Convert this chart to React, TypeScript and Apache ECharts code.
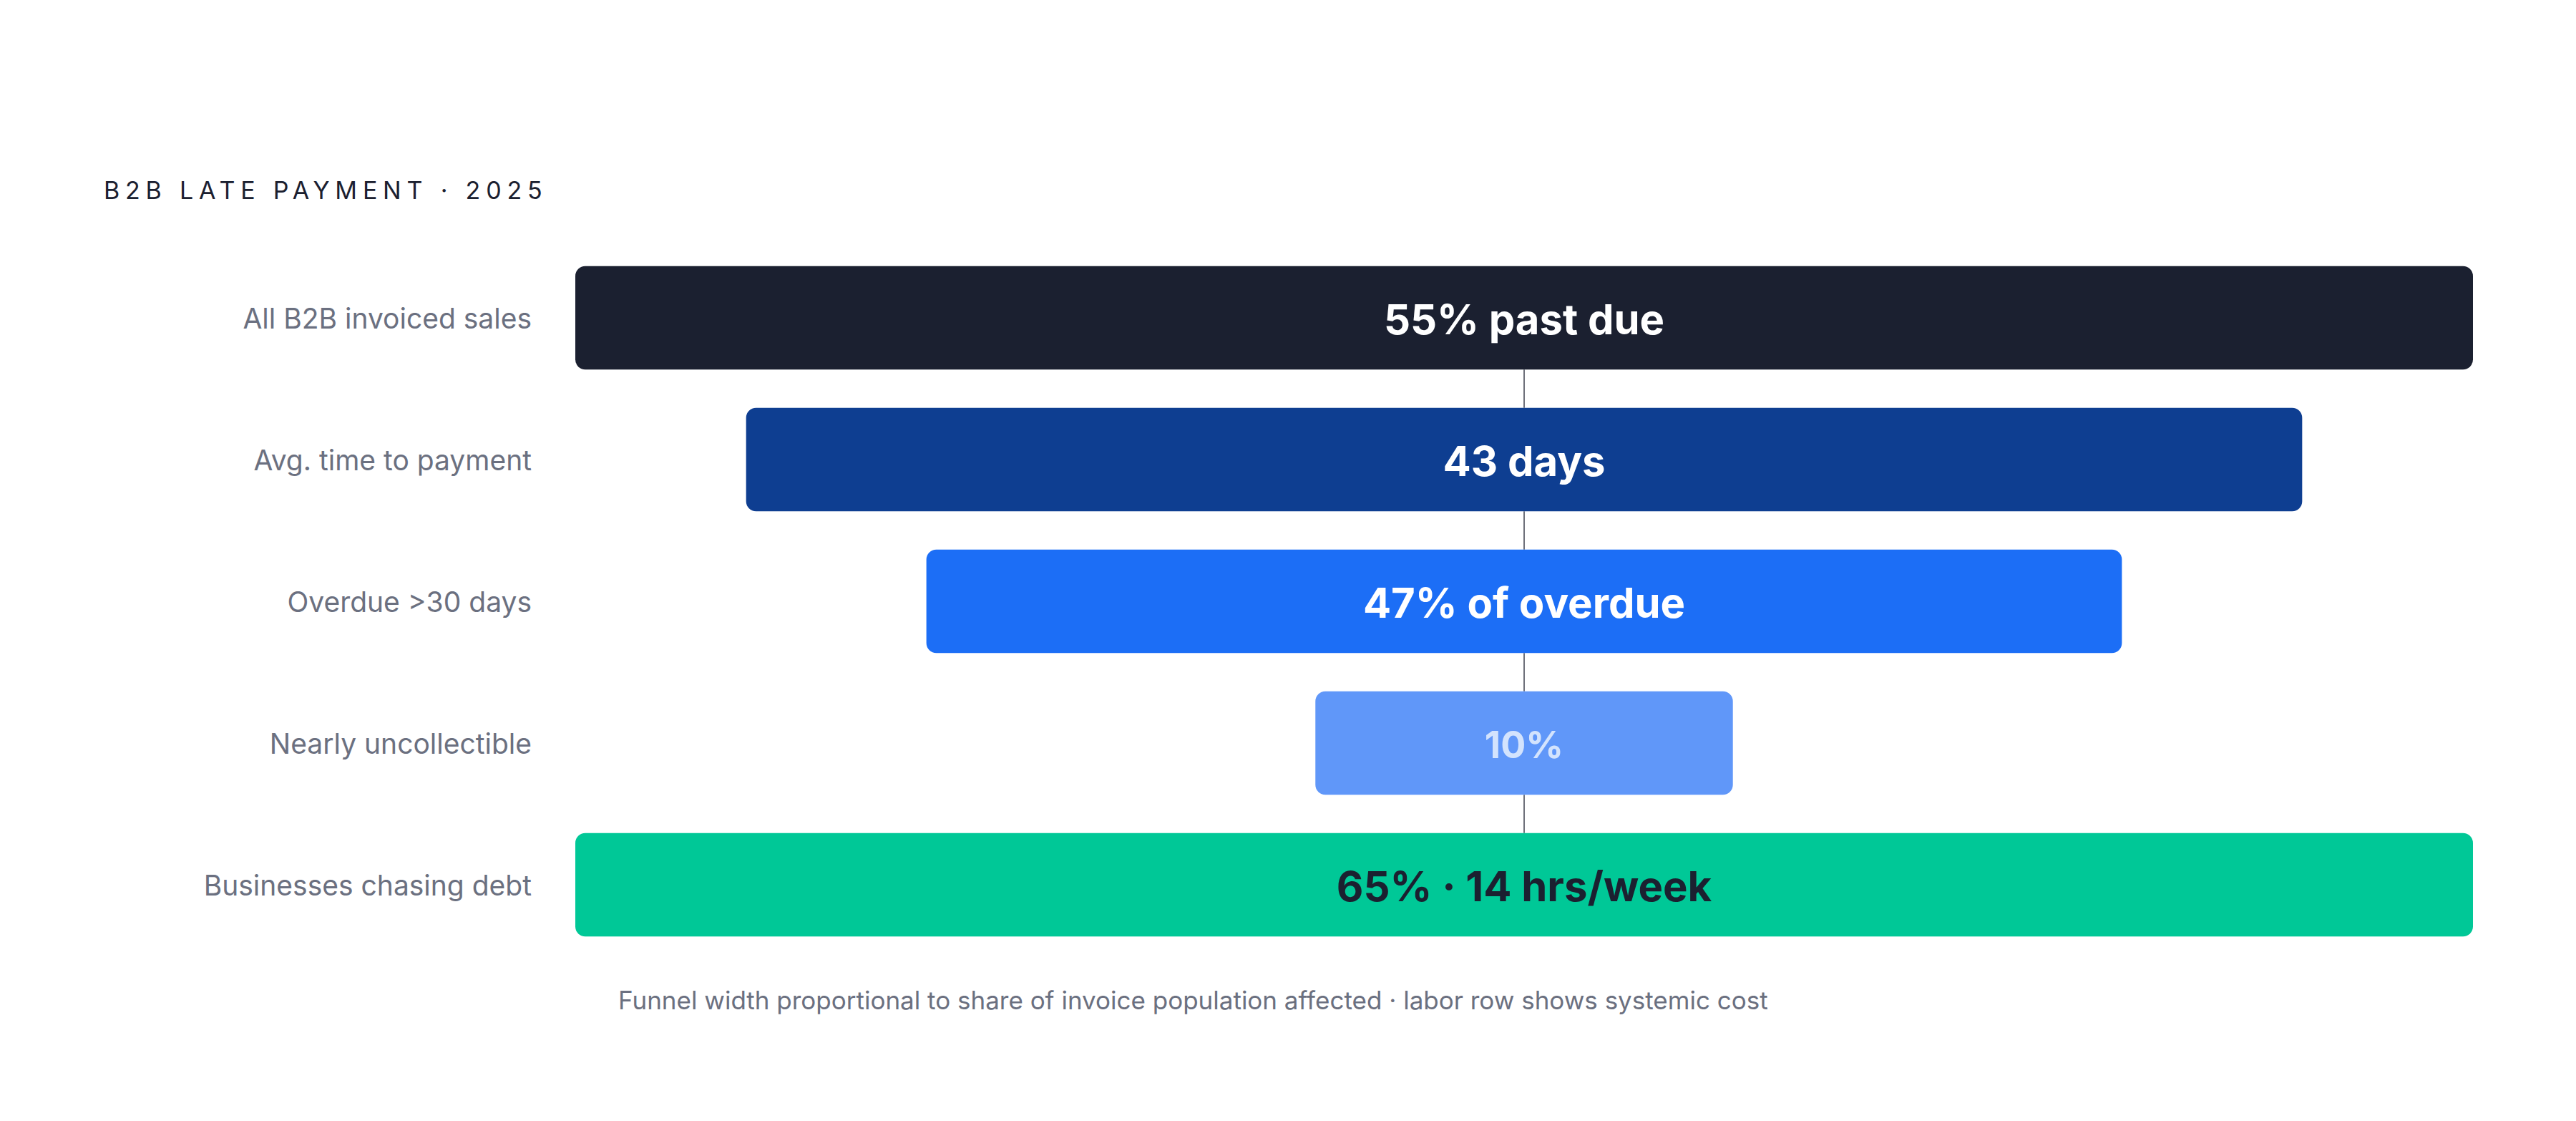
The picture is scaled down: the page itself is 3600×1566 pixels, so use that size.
import { useEffect, useRef } from 'react';
import * as echarts from 'echarts';

// Funnel rows, top to bottom
const stages = [
  'All B2B invoiced sales',
  'Avg. time to payment',
  'Overdue >30 days',
  'Nearly uncollectible',
  'Businesses chasing debt',
];

// Bar width as share of the invoice population (full row = 100)
const widthShare = [100, 82, 63, 22, 100];

const barLabels = ['55% past due', '43 days', '47% of overdue', '10%', '65% · 14 hrs/week'];

const TITLE = 'B2B LATE PAYMENT · 2025';
const FOOTNOTE =
  'Funnel width proportional to share of invoice population affected · labor row shows systemic cost';

const barColors = ['#1b2030', '#0e3e91', '#1c6ef6', '#6097f9', '#00c897'];
const labelColors = ['#ffffff', '#ffffff', '#ffffff', '#d3e3fd', '#1b2030'];
const labelSizes = [58, 58, 58, 52, 58];

const FONT = 'Inter, "Noto Sans", sans-serif';

export default function App() {
  const chartRef = useRef<HTMLDivElement>(null);

  useEffect(() => {
    if (!chartRef.current) return;
    const chart = echarts.init(chartRef.current, null, { renderer: 'svg' });

    const option: echarts.EChartsOption = {
      animation: false,
      backgroundColor: '#ffffff',
      grid: { left: 804, right: 144, top: 345, bottom: 231, containLabel: false },
      xAxis: { type: 'value', min: -50, max: 50, show: false },
      yAxis: {
        type: 'category',
        data: stages,
        inverse: true,
        axisLine: { show: false },
        axisTick: { show: false },
        splitLine: { show: false },
        axisLabel: {
          margin: 61,
          color: '#6b7080',
          fontSize: 39,
          fontFamily: FONT,
        },
      },
      graphic: [
        {
          type: 'text',
          left: 145,
          top: 248,
          silent: true,
          style: {
            text: TITLE,
            fill: '#1b2030',
            fontSize: 34,
            fontFamily: FONT,
            fontWeight: 400,
          },
        },
        {
          type: 'text',
          left: 864,
          top: 1379,
          silent: true,
          style: {
            text: FOOTNOTE,
            fill: '#6b7080',
            fontSize: 35,
            fontFamily: FONT,
          },
        },
      ],
      series: [
        {
          type: 'custom',
          silent: true,
          data: widthShare.map((v, i) => [v, i]),
          encode: { x: 0, y: 1 },
          renderItem: (params: any, api: any) => {
            const share = api.value(0);
            const idx = api.value(1);
            const left = api.coord([-share / 2, idx]);
            const right = api.coord([share / 2, idx]);
            const band = api.size([0, 1])[1];
            const h = band * 0.73;
            const cx = (left[0] + right[0]) / 2;
            const cy = left[1];
            const children: any[] = [];
            if (idx < stages.length - 1) {
              const next = api.coord([0, idx + 1]);
              children.push({
                type: 'line',
                shape: { x1: cx, y1: cy + h / 2, x2: cx, y2: next[1] - h / 2 },
                style: { stroke: '#6e707a', lineWidth: 2 },
              });
            }
            children.push({
              type: 'rect',
              shape: { x: left[0], y: cy - h / 2, width: right[0] - left[0], height: h, r: 14 },
              style: { fill: barColors[idx] },
            });
            children.push({
              type: 'text',
              x: cx,
              y: cy + 2,
              style: {
                text: barLabels[idx],
                fill: labelColors[idx],
                fontSize: labelSizes[idx],
                fontWeight: 700,
                fontFamily: FONT,
                align: 'center',
                verticalAlign: 'middle',
              },
            });
            return { type: 'group', children };
          },
        },
      ],
    };

    chart.setOption(option);

    // zrender has no letter spacing, so set it on the rendered svg text
    const spaceTitle = () => {
      chartRef.current?.querySelectorAll('text').forEach((t) => {
        if (t.textContent === TITLE) t.setAttribute('letter-spacing', '7.8');
      });
    };
    spaceTitle();
    chart.on('finished', spaceTitle);

    return () => {
      chart.dispose();
    };
  }, []);

  return (
    <div
      ref={chartRef}
      style={{ position: 'fixed', left: 0, top: 0, width: 3600, height: 1566, background: '#fff' }}
    />
  );
}
